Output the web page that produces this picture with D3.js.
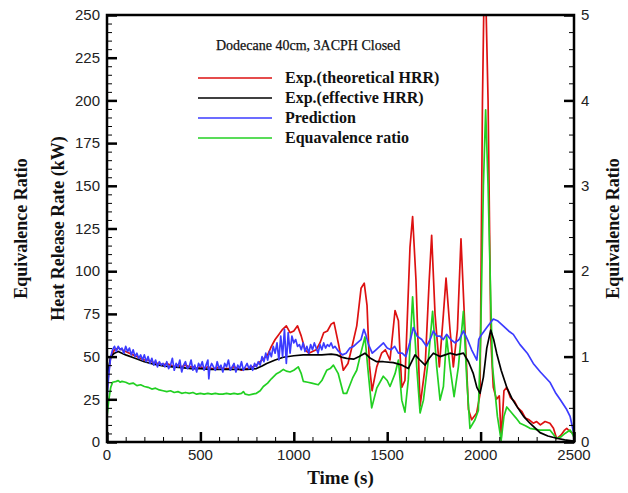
<html>
<head>
<meta charset="utf-8">
<style>
  body { margin: 0; background: #fff; }
  svg { position: absolute; top: 0px; left: 0px; }
  .tick-label { font-family: "Liberation Sans", Arial, sans-serif; font-size: 15px; fill: #222; }
  .axis-title { font-family: "Liberation Serif", "Times New Roman", serif; font-weight: bold; fill: #111; }
  .legend-text { font-family: "Liberation Serif", "Times New Roman", serif; font-weight: bold; font-size: 16px; fill: #111; }
  .note { font-family: "Liberation Serif", "Times New Roman", serif; font-size: 14px; fill: #111; stroke: #111; stroke-width: 0.25px; }
  .series { fill: none; stroke-width: 1.7px; stroke-linejoin: round; }
</style>
<script src="https://cdnjs.cloudflare.com/ajax/libs/d3/7.8.5/d3.min.js"></script>
</head>
<body>
<svg width="628" height="493"></svg>
<script>
// chart values: [time (s), value]
var hrrTheoretical = [
  [0,30],[10,42],[20,50],[40,54],[60,55],[80,54],[100,53],[120,52],[140,51],[160,50],[180,49],[200,48],
  [220,48],[240,47],[260,46],[280,46],[300,45],[320,46],[340,45],[360,44],[380,45],[400,44],[420,45],
  [440,44],[460,44],[480,43],[500,44],[520,43],[540,44],[560,43],[580,43],[600,44],[620,43],[640,43],
  [660,43],[680,44],[700,43],[720,42],[740,43],[760,43],[780,44],[800,45],[820,47],[840,49],[860,51],
  [880,56],[900,60],[920,63],[940,66],[960,68],[980,64],[1000,65],[1020,68],[1040,62],[1060,54],[1080,52],
  [1100,53],[1120,54],[1140,58],[1160,64],[1180,65],[1200,69],[1215,70],[1240,57],[1265,42],[1290,46],
  [1310,55],[1337,68],[1360,90],[1377,93],[1392,80],[1405,45],[1419,30],[1444,44],[1470,52],[1490,54],
  [1515,48],[1542,77],[1560,71],[1578,32],[1595,36],[1622,114],[1636,132],[1654,95],[1676,21],[1703,44],
  [1725,95],[1738,121],[1756,75],[1779,44],[1801,75],[1815,96],[1836,66],[1854,44],[1876,66],[1895,119],
  [1911,79],[1935,19],[1952,13],[1979,17],[1997,28],[2010,200],[2022,290],[2040,200],[2055,60],[2068,32],
  [2085,25],[2100,27],[2110,2],[2125,30],[2140,32],[2160,26],[2180,24],[2200,20],[2220,18],[2240,14],
  [2260,13],[2282,11],[2300,12],[2320,10],[2345,12],[2371,11],[2390,8],[2407,2],[2430,4],[2450,7],
  [2461,8],[2480,6],[2500,5]
];

var hrrEffective = [
  [0,38],[10,44],[20,50],[40,52],[60,53],[80,52],[100,51],[150,49],[200,47],[250,45.5],[300,44.5],
  [350,44],[400,43.5],[450,43],[500,43],[550,42.5],[600,42.5],[650,42.5],[700,42.5],[750,42.5],[800,43],
  [830,44.5],[855,46],[900,48],[944,49.6],[1000,50.5],[1050,51],[1100,51],[1150,51],[1200,51.5],[1230,51],
  [1260,49.5],[1283,49],[1320,48.5],[1350,50],[1381,52],[1410,49],[1444,47],[1480,47],[1533,46.5],
  [1580,45],[1613,43],[1635,48],[1649,51],[1675,48],[1703,45],[1725,49],[1747,52],[1783,50],[1810,51],
  [1836,52],[1870,51],[1908,52],[1935,47],[1961,40],[1980,32],[1997,28.5],[2015,38],[2033,55],[2054,65.5],
  [2070,60],[2086,52],[2110,42],[2140,32],[2170,25],[2193,21],[2230,15],[2264,11],[2318,5.5],[2360,3.5],
  [2407,2.2],[2450,1.2],[2500,0.5]
];

var hrrPrediction = [
  [0,26],[10,40],[20,50],[30,54],[40,56],[50,53],[60,56],[70,54],[80,55],[90,52],[100,56],[110,53],
  [120,55],[130,51],[140,54],[150,50],[160,52],[170,49],[180,51],[190,48],[200,51],[210,47],[220,50],
  [230,46],[240,49],[250,45],[260,48],[270,44],[280,47],[290,45],[300,46],[310,44],[320,47],[330,43],
  [340,45],[350,49],[360,42],[370,46],[380,44],[390,48],[400,41],[410,45],[420,47],[430,43],[440,44],
  [450,48],[460,42],[470,45],[480,41],[490,46],[500,44],[510,47],[520,42],[530,45],[540,48],[545,37],
  [550,43],[560,46],[570,44],[580,42],[590,47],[600,43],[610,45],[620,41],[630,46],[640,44],[650,48],
  [660,42],[670,44],[680,46],[690,41],[700,45],[710,43],[720,47],[730,42],[740,44],[750,46],[760,43],
  [770,45],[780,42],[790,46],[800,44],[810,47],[820,45],[830,50],[840,47],[850,52],[860,48],[870,53],
  [880,50],[890,56],[900,52],[910,58],[920,48],[930,62],[940,50],[950,66],[960,46],[970,64],[980,52],
  [990,62],[1000,58],[1010,60],[1020,56],[1030,57],[1040,54],[1050,58],[1060,53],[1070,56],[1080,52],
  [1090,57],[1100,54],[1110,58],[1120,55],[1130,52],[1140,57],[1150,54],[1160,58],[1170,55],[1180,57],
  [1190,56],[1200,58],[1210,55],[1220,56],[1240,53],[1260,51],[1280,52],[1300,55],[1320,56],[1340,58],
  [1360,60],[1375,66],[1385,63],[1400,57],[1420,52],[1440,54],[1460,56],[1480,58],[1500,55],[1520,54],
  [1540,56],[1560,52],[1580,52],[1600,50],[1620,58],[1640,67],[1660,62],[1685,60],[1710,56],[1730,60],
  [1747,65],[1765,62],[1783,62],[1800,60],[1818,63],[1840,60],[1863,58],[1885,60],[1908,65],[1930,60],
  [1952,54],[1980,48],[1990,60],[2000,62],[2033,67],[2068,72],[2090,71],[2121,68],[2150,65],[2175,63],
  [2211,57],[2250,52],[2282,46],[2320,41],[2371,35],[2400,29],[2425,25],[2461,19],[2479,15],[2495,7],[2500,5]
];

var equivRatio = [
  [0,0.30],[10,0.50],[20,0.64],[30,0.70],[50,0.71],[60,0.72],[70,0.70],[80,0.71],[100,0.70],[120,0.68],
  [140,0.69],[160,0.66],[180,0.67],[200,0.65],[220,0.64],[240,0.62],[260,0.63],[280,0.61],[300,0.60],
  [320,0.59],[340,0.60],[360,0.58],[380,0.59],[400,0.57],[420,0.58],[440,0.57],[460,0.58],[480,0.56],
  [500,0.57],[520,0.56],[540,0.57],[560,0.56],[580,0.57],[600,0.56],[620,0.56],[640,0.57],[660,0.56],
  [680,0.57],[700,0.56],[720,0.57],[730,0.59],[740,0.56],[760,0.55],[780,0.56],[800,0.57],[820,0.60],
  [837,0.65],[860,0.69],[880,0.74],[908,0.80],[925,0.82],[944,0.85],[960,0.83],[980,0.82],[1000,0.84],
  [1024,0.88],[1040,0.80],[1051,0.71],[1075,0.70],[1096,0.69],[1131,0.67],[1150,0.72],[1176,0.84],
  [1195,0.86],[1212,0.90],[1238,0.80],[1265,0.57],[1283,0.57],[1292,0.62],[1315,0.75],[1337,0.84],
  [1360,1.05],[1381,1.23],[1399,0.80],[1417,0.40],[1444,0.63],[1479,0.77],[1500,0.72],[1515,0.65],
  [1542,0.80],[1560,0.96],[1578,0.49],[1595,0.35],[1613,0.73],[1636,1.70],[1658,0.88],[1676,0.34],
  [1694,0.49],[1720,0.96],[1743,1.53],[1765,0.88],[1783,0.49],[1801,0.65],[1818,1.23],[1836,0.88],
  [1858,0.53],[1881,0.88],[1908,1.53],[1926,0.73],[1943,0.16],[1970,0.26],[1988,0.37],[2000,1.2],
  [2015,3.0],[2027,3.89],[2040,3.0],[2055,1.6],[2064,0.88],[2090,0.3],[2110,0.02],[2125,0.3],[2140,0.41],
  [2167,0.34],[2190,0.28],[2211,0.22],[2240,0.19],[2264,0.16],[2318,0.14],[2371,0.14],[2407,0.04],
  [2430,0.06],[2452,0.10],[2479,0.14],[2495,0.08],[2500,0.05]
];

var timeTicks = [0, 500, 1000, 1500, 2000, 2500];
var hrrTicks = [0, 25, 50, 75, 100, 125, 150, 175, 200, 225, 250];
var ratioTicks = [0, 1, 2, 3, 4, 5];

var legendLabels = ["Exp.(theoretical HRR)", "Exp.(effective HRR)", "Prediction", "Equavalence ratio"];
var legendColors = ["#dd1111", "#000000", "#3b3bff", "#22d022"];
var chartNote = "Dodecane 40cm, 3ACPH Closed";

var svg = d3.select("svg"),
	margin = {left: 107, right: 54, top: 15, bottom: 51},
	width = +svg.attr("width") - margin.left - margin.right,
	height = +svg.attr("height") - margin.top - margin.bottom;

var x = d3.scaleLinear().domain([0, 2500]).range([0, width]);
var yL = d3.scaleLinear().domain([0, 250]).range([height, 0]);
var yR = d3.scaleLinear().domain([0, 5]).range([height, 0]);

var g = svg.append("g").attr("transform", "translate(" + margin.left + "," + margin.top + ")");

svg.append("defs").append("clipPath").attr("id", "plot-clip")
	.append("rect").attr("width", width).attr("height", height);

// series
var lineL = d3.line().x(d => x(d[0])).y(d => yL(d[1]));
var lineR = d3.line().x(d => x(d[0])).y(d => yR(d[1]));
var plot = g.append("g").attr("clip-path", "url(#plot-clip)");

plot.append("path").attr("class", "series").attr("stroke", legendColors[0]).attr("d", lineL(hrrTheoretical));
plot.append("path").attr("class", "series").attr("stroke", legendColors[3]).attr("d", lineR(equivRatio));
plot.append("path").attr("class", "series").attr("stroke", legendColors[1]).attr("d", lineL(hrrEffective));
plot.append("path").attr("class", "series").attr("stroke", legendColors[2]).attr("d", lineL(hrrPrediction));

// axes, ticks drawn inward like the original
var axLeft = d3.axisRight(yL).tickValues(hrrTicks).tickSize(10).tickFormat("");
var axLeftMinor = d3.axisRight(yL).tickValues(d3.range(0, 251, 5)).tickSize(5).tickFormat("");
var axRight = d3.axisLeft(yR).tickValues(ratioTicks).tickSize(10).tickFormat("");
var axRightMinor = d3.axisLeft(yR).tickValues(d3.range(0, 5.01, 0.2)).tickSize(5).tickFormat("");
var axBottom = d3.axisTop(x).tickValues(timeTicks).tickSize(10).tickFormat("");
var axBottomMinor = d3.axisTop(x).tickValues(d3.range(0, 2501, 100)).tickSize(5).tickFormat("");

function styleAxis(sel, w) {
	sel.select(".domain").remove();
	sel.selectAll("line").attr("stroke", "#000").attr("stroke-width", w);
}
g.append("g").call(axLeftMinor).call(styleAxis, 1);
g.append("g").call(axLeft).call(styleAxis, 2.5);
g.append("g").attr("transform", "translate(" + width + ",0)").call(axRightMinor).call(styleAxis, 1);
g.append("g").attr("transform", "translate(" + width + ",0)").call(axRight).call(styleAxis, 2.5);
g.append("g").attr("transform", "translate(0," + height + ")").call(axBottomMinor).call(styleAxis, 1);
g.append("g").attr("transform", "translate(0," + height + ")").call(axBottom).call(styleAxis, 2.5);

g.append("rect").attr("width", width).attr("height", height)
	.attr("fill", "none").attr("stroke", "#000").attr("stroke-width", 2.5);

// tick labels
g.selectAll(".lbl-l").data(hrrTicks).enter().append("text")
	.attr("class", "tick-label").attr("x", -7).attr("y", d => yL(d)).attr("dy", "0.35em")
	.attr("text-anchor", "end").text(d => d);
g.selectAll(".lbl-r").data(ratioTicks).enter().append("text")
	.attr("class", "tick-label").attr("x", width + 7).attr("y", d => yR(d)).attr("dy", "0.35em")
	.attr("text-anchor", "start").text(d => d);
g.selectAll(".lbl-b").data(timeTicks).enter().append("text")
	.attr("class", "tick-label").attr("x", d => x(d)).attr("y", height + 18)
	.attr("text-anchor", "middle").text(d => d);

// axis titles
svg.append("text").attr("class", "axis-title").attr("font-size", 19)
	.attr("x", margin.left + width / 2).attr("y", 484).attr("text-anchor", "middle").text("Time (s)");
svg.append("text").attr("class", "axis-title").attr("font-size", 18)
	.attr("transform", "translate(64," + (margin.top + height / 2) + ") rotate(-90)")
	.attr("text-anchor", "middle").text("Heat Release Rate (kW)");
svg.append("text").attr("class", "axis-title").attr("font-size", 18)
	.attr("transform", "translate(27," + (margin.top + height / 2) + ") rotate(-90)")
	.attr("text-anchor", "middle").text("Equivalence Ratio");
svg.append("text").attr("class", "axis-title").attr("font-size", 18)
	.attr("transform", "translate(619," + (margin.top + height / 2) + ") rotate(-90)")
	.attr("text-anchor", "middle").text("Equivalence Ratio");

// note + legend
svg.append("text").attr("class", "note").attr("x", 216).attr("y", 50).text(chartNote);

var legend = svg.append("g").selectAll("g").data(legendLabels).enter().append("g")
	.attr("transform", (d, i) => "translate(198," + (78 + i * 20) + ")");
legend.append("line").attr("x1", 0).attr("x2", 74).attr("stroke", (d, i) => legendColors[i]).attr("stroke-width", 1.7);
legend.append("text").attr("class", "legend-text").attr("x", 87).attr("y", 5).text(d => d);
</script>
</body>
</html>
